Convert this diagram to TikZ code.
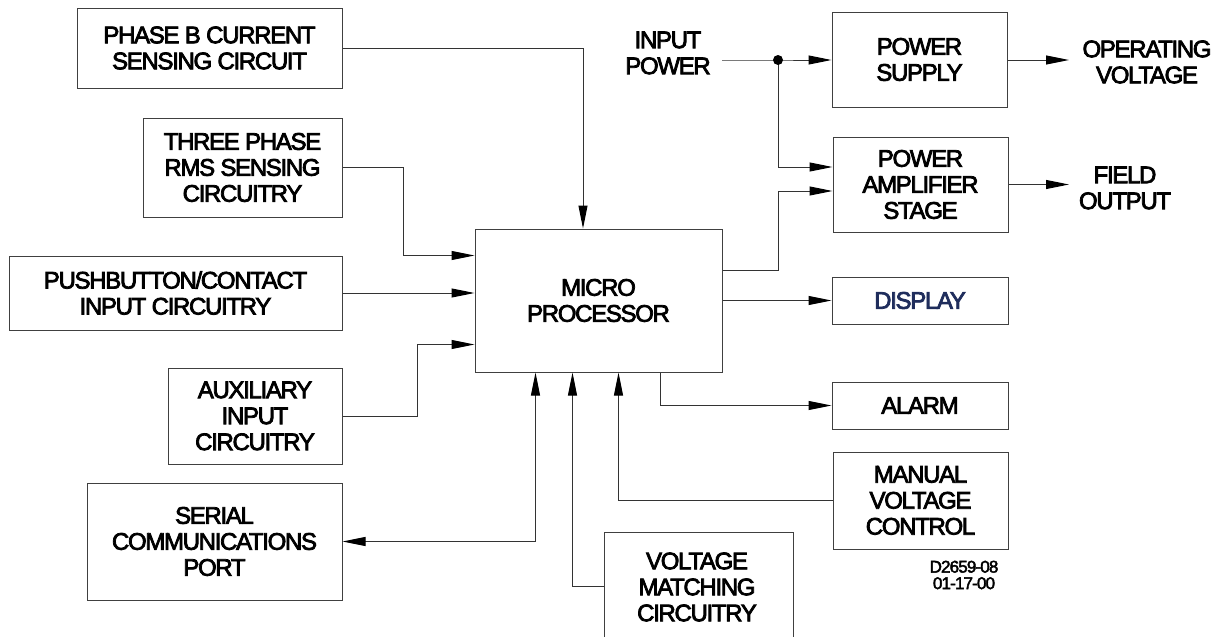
\documentclass[tikz,border=0pt]{standalone}
\usepackage{fontspec}
\setmainfont{Liberation Sans}[FakeBold=3.2,LetterSpace=-5.5]
\newfontfamily\smallfont{Liberation Sans}[FakeBold=2.5,LetterSpace=-5]
\usetikzlibrary{arrows.meta,calc}
\definecolor{navy}{HTML}{1F2D5C}
\tikzset{
  blk/.style={draw=black!75, line width=1pt, align=center, inner sep=0pt,
    font=\fontsize{24}{26}\selectfont},
  lbl/.style={align=center, inner sep=0pt, font=\fontsize{24}{26}\selectfont},
  conn/.style={draw=black!80, line width=1pt},
  arr/.style={conn, -{Triangle[length=23pt,width=9pt,color=black]}},
  barr/.style={conn, {Triangle[length=23pt,width=9pt,color=black]}-{Triangle[length=23pt,width=9pt,color=black]}},
}
\begin{document}
\begin{tikzpicture}[x=1pt,y=-1pt]
\useasboundingbox (0,0) rectangle (1219,637);
% left column
\node[blk, minimum width=265, minimum height=80] (phaseb) at (209.5,48) {PHASE B CURRENT\\SENSING CIRCUIT};
\node[blk, minimum width=199, minimum height=99] (three) at (242.5,167.5) {THREE PHASE\\RMS SENSING\\CIRCUITRY};
\node[blk, minimum width=333, minimum height=74] (push) at (175.5,293) {PUSHBUTTON/CONTACT\\INPUT CIRCUITRY};
\node[blk, minimum width=174, minimum height=96] (aux) at (255,416) {AUXILIARY\\INPUT\\CIRCUITRY};
\node[blk, minimum width=255, minimum height=117] (serial) at (214.5,541.5) {SERIAL\\COMMUNICATIONS\\PORT};
% center
\node[blk, minimum width=247, minimum height=143] (micro) at (598.5,300.5) {MICRO\\PROCESSOR};
\node[lbl] (vm) at (697,587) {VOLTAGE\\MATCHING\\CIRCUITRY};
\draw[draw=black!75, line width=1pt] (604,640) -- (604,532) -- (793,532) -- (793,640);
\coordinate (vmw) at (604,586);
\node[lbl] (ip) at (668,53) {INPUT\\POWER};
% right column
\node[blk, minimum width=175, minimum height=95] (psup) at (919.5,59.5) {POWER\\SUPPLY};
\node[blk, minimum width=175, minimum height=95] (pamp) at (920.5,184.5) {POWER\\AMPLIFIER\\STAGE};
\node[blk, minimum width=176, minimum height=47, text=navy] (disp) at (920,300.5) {DISPLAY};
\node[blk, minimum width=176, minimum height=47] (alarm) at (920,405.5) {ALARM};
\node[blk, minimum width=175, minimum height=97] (manual) at (920.5,500.5) {MANUAL\\VOLTAGE\\CONTROL};
\node[lbl] (opv) at (1147,62) {OPERATING\\VOLTAGE};
\node[lbl] (field) at (1125,188) {FIELD\\OUTPUT};
\node[align=center, inner sep=0pt, font=\smallfont\fontsize{17}{16.5}\selectfont] (dno) at (964,575) {D2659-08\\01-17-00};
% connectors
\draw[arr] (phaseb.east) -| ($(micro.north)+(-15.5,0)$);
\draw[arr] (three.east) -| ($(micro.north west)+(-71,27)$) -- ($(micro.north west)+(0,27)$);
\draw[arr] (push.east) -- (micro.west |- push.east);
\draw[arr] (aux.east) -| ($(micro.south west)+(-57,-28)$) -- ($(micro.south west)+(0,-28)$);
\draw[barr] ($(micro.south west)+(61,0)$) |- (serial.east);
\draw[arr] (vmw) -| ($(micro.south west)+(98,0)$);
\draw[arr] (manual.west) -| ($(micro.south west)+(144,0)$);
\draw[arr] ($(micro.south west)+(186,0)$) |- (alarm.west);
\draw[arr] (micro.east |- disp.west) -- (disp.west);
\draw[arr] ($(micro.north east)+(0,42)$) -| (778,191) -- (pamp.west |- 778,191);
\coordinate (ipstart) at (722,60);
\coordinate (dot) at (778,60);
\draw[arr] (ipstart) -- (dot) -- (psup.west |- dot);
\draw[arr] (dot) |- (pamp.west |- 778,167);
\fill[black] (dot) circle (5);
\coordinate (opvend) at (1069,60);
\coordinate (fieldend) at (1069,184.5);
\draw[arr] (psup.east |- opvend) -- (opvend);
\draw[arr] (pamp.east) -- (fieldend);
\end{tikzpicture}
\end{document}
